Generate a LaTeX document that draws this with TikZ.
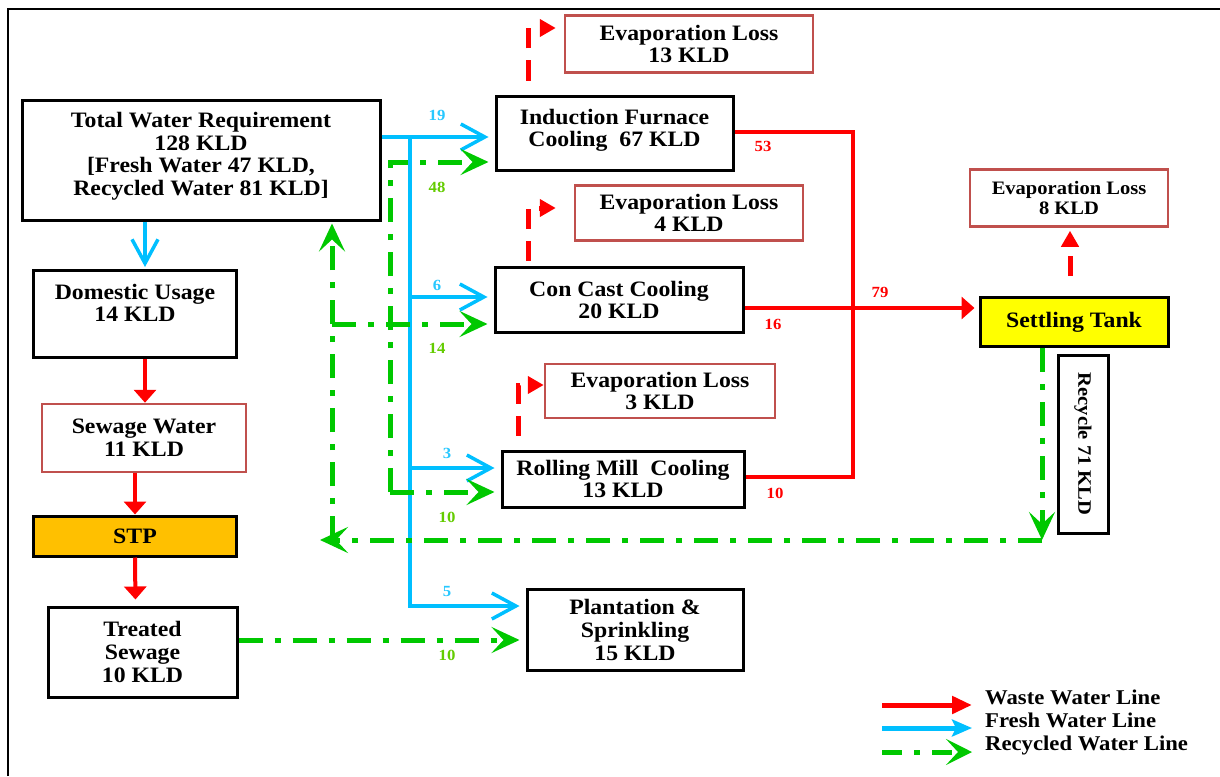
\documentclass[tikz,border=0pt]{standalone}
\usepackage{fontspec}
\setmainfont{Liberation Serif}[FakeStretch=1.08]
\usetikzlibrary{arrows.meta}
\definecolor{wred}{RGB}{255,0,0}
\definecolor{fblue}{RGB}{0,191,255}
\definecolor{rgreen}{RGB}{0,200,0}
\definecolor{lossbrd}{RGB}{192,80,77}
\definecolor{stpfill}{RGB}{255,192,0}
\definecolor{tankfill}{RGB}{255,255,0}
\definecolor{lblblue}{RGB}{40,200,255}
\definecolor{lblgreen}{RGB}{100,204,0}
\begin{document}
\begin{tikzpicture}[x=1pt,y=-1pt,
  box/.style={draw=black,line width=3pt,fill=white,align=center,inner sep=0pt,
    font=\fontsize{22}{22.6}\selectfont\bfseries},
  loss/.style={box,draw=lossbrd,line width=2.5pt},
  small/.style={font=\fontsize{19}{20}\selectfont\bfseries},
  num/.style={inner sep=0pt,font=\fontsize{15.5}{15.5}\selectfont\bfseries},
  legtext/.style={anchor=west,inner sep=0pt,font=\fontsize{21}{22}\selectfont\bfseries},
  fresh/.style={draw=fblue,line width=4pt,shorten >=6pt,
    -{Straight Barb[length=24pt,width=26pt,line width=3.5pt]}},
  recyc/.style={draw=rgreen,line width=5pt,dash pattern=on 24pt off 12pt on 6pt off 12pt,
    shorten >=6pt,-{Stealth[length=28pt,width=26pt,inset=12pt]}},
  wline/.style={draw=wred,line width=4pt},
  waste/.style={wline,-{Triangle[length=13pt,width=22pt]}},
  evap/.style={draw=wred,line width=5pt,dash pattern=on 20pt off 12pt,
    -{Triangle[length=16pt,width=17pt]}}
]
\useasboundingbox (0,0) rectangle (1220,776);
\fill[white] (0,0) rectangle (1220,776);
\draw[line width=2pt] (8,776) -- (8,9) -- (1220,9);

% nodes
\node[box,minimum width=358pt,minimum height=120pt] (total) at (201,160)
  {Total Water Requirement\\128 KLD\\{}[Fresh Water 47 KLD,\\Recycled Water 81 KLD]\\[-10pt]~};
\node[box,minimum width=237pt,minimum height=74pt] (ind) at (614.5,133)
  {Induction Furnace\\Cooling~~67 KLD\\[-12pt]~};
\node[loss,minimum width=248pt,minimum height=57pt] (ev13) at (689,44)
  {Evaporation Loss\\13 KLD};
\node[loss,minimum width=228pt,minimum height=55pt] (ev4) at (689,213)
  {Evaporation Loss\\4 KLD};
\node[box,minimum width=248pt,minimum height=65pt] (conc) at (619,300)
  {Con Cast Cooling\\20 KLD};
\node[loss,minimum width=230pt,minimum height=54pt] (ev3) at (660,391)
  {Evaporation Loss\\3 KLD};
\node[box,minimum width=242pt,minimum height=56pt] (roll) at (623,479)
  {Rolling Mill~~Cooling\\13 KLD};
\node[box,minimum width=216pt,minimum height=81pt] (plant) at (635,630)
  {Plantation \&\\Sprinkling\\15 KLD};
\node[box,minimum width=203pt,minimum height=87pt] (dom) at (135,314)
  {Domestic Usage\\14 KLD\\~};
\node[loss,minimum width=204pt,minimum height=68pt] (sew) at (144,438)
  {Sewage Water\\11 KLD};
\node[box,fill=stpfill,minimum width=203pt,minimum height=40pt] (stp) at (135,536)
  {STP};
\node[box,minimum width=189pt,minimum height=90pt] (treat) at (142.5,652)
  {Treated\\Sewage\\10 KLD};
\node[box,fill=tankfill,minimum width=188pt,minimum height=49pt] (sett) at (1074,322)
  {Settling Tank};
\node[loss,small,minimum width=198pt,minimum height=57pt] (ev8) at (1069,198)
  {Evaporation Loss\\8 KLD};
\node[box,rotate=-90,minimum width=178pt,minimum height=50pt,
  font=\fontsize{19}{20}\selectfont\bfseries] (rec) at (1083,444) {Recycle 71 KLD};

% fresh water
\coordinate (bj) at (410,137);
\draw[fresh] ([yshift=23pt]total.east) -- (bj) -- ([yshift=-4pt]ind.west);
\draw[fresh] (bj) |- ([yshift=24pt]plant.west);
\coordinate (cw) at ([yshift=3pt]conc.west);
\draw[fresh] (cw -| bj) -- (cw);
\coordinate (rw) at ([yshift=11pt]roll.west);
\draw[fresh] (rw -| bj) -- (rw);
\draw[fresh,shorten >=2pt] ([xshift=-56pt]total.south) -- ([xshift=10pt]dom.north);

% recycled water
\coordinate (sd) at (1042,540);
\coordinate (gl) at (332,540);
\coordinate (gltip) at (320,540);
\coordinate (g2) at (390,0);
\draw[recyc,shorten >=0pt] ([xshift=-32pt]sett.south) -- (sd);
\draw[recyc,shorten >=0pt] (sd) -- (gltip);
\draw[recyc,shorten >=2pt] (gl) -- ([xshift=131pt]total.south);
\coordinate (cg) at ([yshift=-24pt]conc.west);
\draw[recyc] (cg -| gl) -- (cg);
\coordinate (ig) at ([yshift=-29pt]ind.west);
\coordinate (rg) at ([yshift=-13pt]roll.west);
\draw[recyc] (rg -| g2) |- (ig);
\draw[recyc] (rg -| g2) -- (rg);
\draw[recyc] ([yshift=12pt]treat.east) -- ([yshift=-10pt]plant.west);

% waste water
\coordinate (rv) at (853,0);
\coordinate (ie) at ([yshift=1pt]ind.east);
\coordinate (re) at ([yshift=2pt]roll.east);
\draw[wline] (ie) -- (ie -| rv) -- (re -| rv) -- (re);
\draw[waste,shorten >=4pt] ([yshift=-8pt]conc.east) -- ([yshift=14pt]sett.west);
\draw[waste] ([xshift=10pt]dom.south) -- ([xshift=1pt]sew.north);
\draw[waste] ([xshift=-9pt]sew.south) -- (stp.north);
\draw[waste,shorten >=6pt] (stp.south) -- ([xshift=-7pt]treat.north);

% evaporation
\draw[evap] ([xshift=-86pt,yshift=14pt]ind.north) |- ([xshift=-8pt,yshift=16pt]ev13.west);
\draw[evap] ([xshift=-91pt,yshift=5pt]conc.north) |- ([xshift=-18pt,yshift=5pt]ev4.west);
\draw[evap] ([xshift=-105pt,yshift=14pt]roll.north) |- ([yshift=6pt]ev3.west);
\draw[evap] ([xshift=-4pt,yshift=20pt]sett.north) -- ([xshift=1pt,yshift=-3pt]ev8.south);

% flow labels
\node[num,text=lblblue] (n19) at (437,115) {19};
\node[num,text=lblblue] (n6) at (437,285) {6};
\node[num,text=lblblue] (n3) at (447,453) {3};
\node[num,text=lblblue] (n5) at (447,591) {5};
\node[num,text=lblgreen] (n48) at (437,187) {48};
\node[num,text=lblgreen] (n14) at (437,348) {14};
\node[num,text=lblgreen] (n10a) at (447,517) {10};
\node[num,text=lblgreen] (n10b) at (447,655) {10};
\node[num,text=wred] (n53) at (763,146) {53};
\node[num,text=wred] (n16) at (773,324) {16};
\node[num,text=wred] (n10c) at (775,493) {10};
\node[num,text=wred] (n79) at (880,292) {79};

% legend
\coordinate (la1) at (882,705); \coordinate (lb1) at (972,705);
\coordinate (la2) at (882,728); \coordinate (lb2) at (972,728);
\coordinate (la3) at (882,752); \coordinate (lb3) at (972,752);
\draw[wline,line width=5pt,-{Triangle[length=20pt,width=17pt]}] (la1) -- (lb1);
\draw[draw=fblue,line width=5pt,-{Stealth[length=20pt,width=17pt,inset=4pt]}] (la2) -- (lb2);
\draw[draw=rgreen,line width=5pt,dash pattern=on 20pt off 12pt on 6pt off 12pt,
  -{Stealth[length=26pt,width=26pt,inset=12pt]}] (la3) -- (lb3);
\node[legtext] (lt1) at (985,697) {Waste Water Line};
\node[legtext] (lt2) at (985,720) {Fresh Water Line};
\node[legtext] (lt3) at (985,745) {Recycled Water Line};
\end{tikzpicture}
\end{document}
